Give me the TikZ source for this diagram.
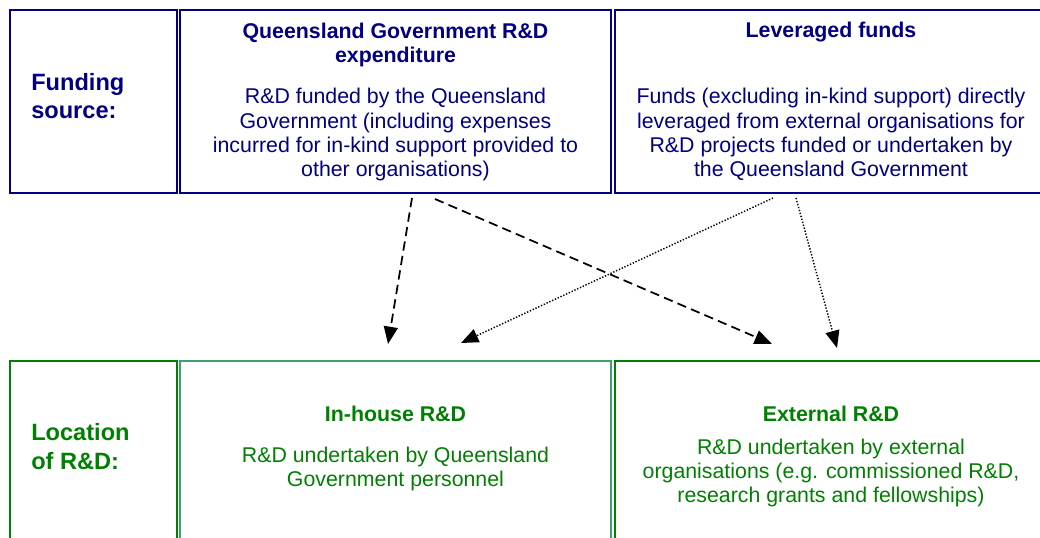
\documentclass[tikz,border=0pt]{standalone}
\usepackage{fontspec}
\setmainfont{Liberation Sans}
\usetikzlibrary{arrows.meta,fit}
\definecolor{navy}{RGB}{0,0,128}
\definecolor{leafgreen}{RGB}{0,128,0}
\definecolor{palegreen}{RGB}{64,158,112}
\tikzset{
  srcbox/.style={draw=navy, line width=1.5pt, inner sep=0pt},
  locbox/.style={draw=leafgreen, line width=1.5pt, inner sep=0pt},
  lightbox/.style={draw=palegreen, line width=1.3pt, inner sep=0pt},
  rowlabel/.style={font=\fontsize{17.7}{20}\selectfont\bfseries, align=left, anchor=base west, inner sep=0pt},
  headtxt/.style={font=\fontsize{16}{18.3}\selectfont\bfseries, align=center, anchor=base, inner sep=0pt},
  bodytxt/.style={font=\fontsize{16}{18.3}\selectfont, align=center, anchor=base, inner sep=0pt},
  flow/.style={line width=1.3pt, -{Triangle[length=13pt,width=10.5pt]}},
  govflow/.style={flow, dash pattern=on 7pt off 4pt},
  levflow/.style={flow, line width=1.1pt, dash pattern=on 1pt off 1.3pt},
}
\begin{document}
\begin{tikzpicture}[x=0.75pt,y=-0.75pt]
\useasboundingbox (0,0) rectangle (1040,538);
\clip (0,0) rectangle (1040,538);

% funding source row
\node[srcbox, fit={(9.5,10) (177,193)}] (srcrow) {};
\node[srcbox, fit={(180,10) (611,193)}] (qgov) {};
\node[srcbox, fit={(615,10) (1047,193)}] (lev) {};

% multi-line texts are placed by the baseline of their last line
\node[rowlabel, text=navy] (srclbl) at (31,119) {Funding\\[1.3pt]source:};

\node[headtxt, text=navy] (qgovhead) at (395.5,63) {Queensland Government R\&D\\expenditure};
\node[bodytxt, text=navy] (qgovbody) at (395.5,177) {R\&D funded by the Queensland\\Government (including expenses\\incurred for in-kind support provided to\\other organisations)};

\node[headtxt, text=navy] (levhead) at (831,38) {Leveraged funds};
\node[bodytxt, text=navy] (levbody) at (831,177) {Funds (excluding in-kind support) directly\\leveraged from external organisations for\\R\&D projects funded or undertaken by\\the Queensland Government};

% location row
\node[locbox, fit={(9.5,361) (177,560)}] (locrow) {};
\node[lightbox, fit={(180,361) (611,560)}] (inhouse) {};
\node[locbox, fit={(615,361) (1047,560)}] (external) {};

\node[rowlabel, text=leafgreen] (loclbl) at (31,469.3) {Location\\[1.3pt]of R\&D:};

\node[headtxt, text=leafgreen] (inhead) at (395.5,421.5) {In-house R\&D};
\node[bodytxt, text=leafgreen] (inbody) at (395.5,486.7) {R\&D undertaken by Queensland\\Government personnel};

\node[headtxt, text=leafgreen] (exthead) at (831,421.5) {External R\&D};
\node[bodytxt, text=leafgreen] (extbody) at (831,503) {R\&D undertaken by external\\organisations (e.g. commissioned R\&D,\\research grants and fellowships)};

% flows between the two rows
\coordinate (qgovA) at (412,198);
\coordinate (qgovB) at (435,199);
\coordinate (levA) at (773,198);
\coordinate (levB) at (796,198);
\coordinate (inA) at (388,344);
\coordinate (inB) at (461,343);
\coordinate (extA) at (772,344);
\coordinate (extB) at (837,348);

\draw[govflow] (qgovA) -- (inA);
\draw[govflow] (qgovB) -- (extA);
\draw[levflow] (levA) -- (inB);
\draw[levflow] (levB) -- (extB);
\end{tikzpicture}
\end{document}
